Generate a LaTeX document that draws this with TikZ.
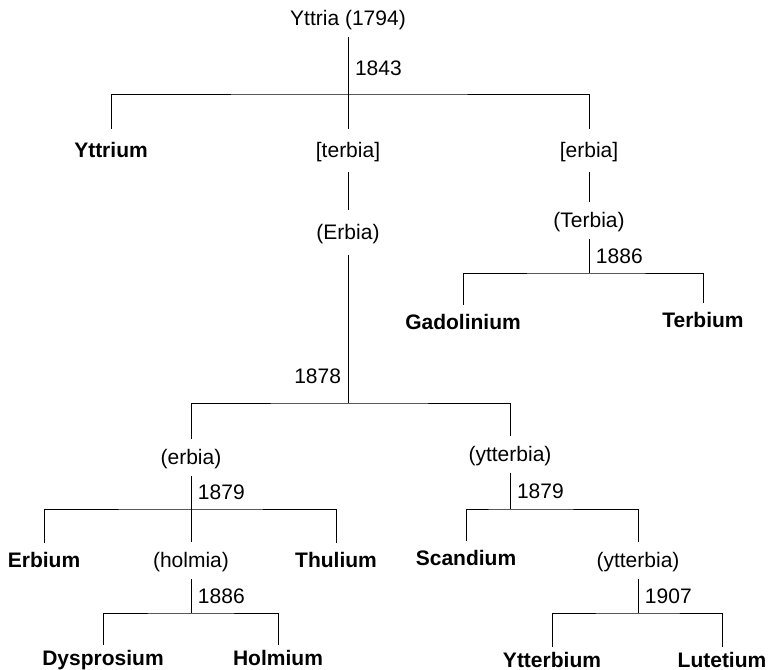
\documentclass[tikz,border=0pt]{standalone}
\usepackage{fontspec}
\setmainfont{Liberation Sans}
\usetikzlibrary{positioning,calc}
\tikzset{
  oxide/.style={inner sep=0pt, outer ysep=5.5pt, text height=7.5pt, text depth=0pt, font=\fontsize{10.5}{12}\selectfont},
  element/.style={oxide, font=\fontsize{10.5}{12}\selectfont\bfseries},
  year/.style={inner xsep=3.5pt, inner ysep=0pt, outer sep=0pt, text height=7.5pt, text depth=0pt, font=\fontsize{10.5}{12}\selectfont},
}

\begin{document}
\begin{tikzpicture}[x=0.5pt, y=-0.5pt, line width=0.5pt]
        \useasboundingbox (0,0) rectangle (768,670);
        % oxides and elements
        \node[oxide] (yttria) at (348,18) {Yttria (1794)};
        \node[element, outer ysep=7pt] (yttrium) at (111,150) {Yttrium};
        \node[oxide, outer ysep=7pt] (terbiaA) at (348,150) {[terbia]};
        \node[oxide, outer ysep=7pt] (erbiaA) at (589,150) {[erbia]};
        \node[oxide, outer ysep=7.5pt] (ErbiaB) at (348,232) {(Erbia)};
        \node[oxide] (TerbiaB) at (589,220) {(Terbia)};
        \node[element, outer ysep=5pt] (gadolinium) at (463,322) {Gadolinium};
        \node[element, outer ysep=5pt] (terbium) at (703,320) {Terbium};
        \node[oxide] (erbiaC) at (191,457) {(erbia)};
        \node[oxide] (ytterbiaC) at (510,454) {(ytterbia)};
        \node[element, outer ysep=5pt] (erbium) at (44,560) {Erbium};
        \node[oxide] (holmia) at (191,560) {(holmia)};
        \node[element, outer ysep=5pt] (thulium) at (336,560) {Thulium};
        \node[element, outer ysep=5pt] (scandium) at (466,558) {Scandium};
        \node[oxide] (ytterbiaD) at (638,560) {(ytterbia)};
        \node[element, outer ysep=3pt] (dysprosium) at (103,658) {Dysprosium};
        \node[element, outer ysep=3pt] (holmium) at (278,658) {Holmium};
        \node[element, outer ysep=3pt] (ytterbium) at (552,660) {Ytterbium};
        \node[element, outer ysep=3pt] (lutetium) at (722,660) {Lutetium};
        % split points
        \coordinate (s1843) at (348,94);
        \coordinate (s1886a) at (589,273);
        \coordinate (s1878) at (348,403);
        \coordinate (s1879a) at (191,509);
        \coordinate (s1879b) at (510,509);
        \coordinate (s1886b) at (191,613);
        \coordinate (s1907) at (638,613);
        % connectors
        \draw (yttria) -- node[year,right,pos=0.55] {1843} (s1843);
        \draw (yttrium) |- (s1843) -| (erbiaA);
        \draw (s1843) -- (terbiaA);
        \draw (terbiaA) -- (ErbiaB);
        \draw (erbiaA) -- (TerbiaB);
        \draw (TerbiaB) -- node[year,right] {1886} (s1886a);
        \draw (gadolinium) |- (s1886a) -| (terbium);
        \draw (ErbiaB) -- node[year,left,pos=0.82] {1878} (s1878);
        \draw (erbiaC) |- (s1878) -| (ytterbiaC);
        \draw (erbiaC) -- node[year,right] {1879} (s1879a);
        \draw (erbium) |- (s1879a) -| (thulium);
        \draw (s1879a) -- (holmia);
        \draw (ytterbiaC) -- node[year,right] {1879} (s1879b);
        \draw (scandium) |- (s1879b) -| (ytterbiaD);
        \draw (holmia) -- node[year,right] {1886} (s1886b);
        \draw (dysprosium) |- (s1886b) -| (holmium);
        \draw (ytterbiaD) -- node[year,right] {1907} (s1907);
        \draw (ytterbium) |- (s1907) -| (lutetium);
      \end{tikzpicture}
\end{document}
